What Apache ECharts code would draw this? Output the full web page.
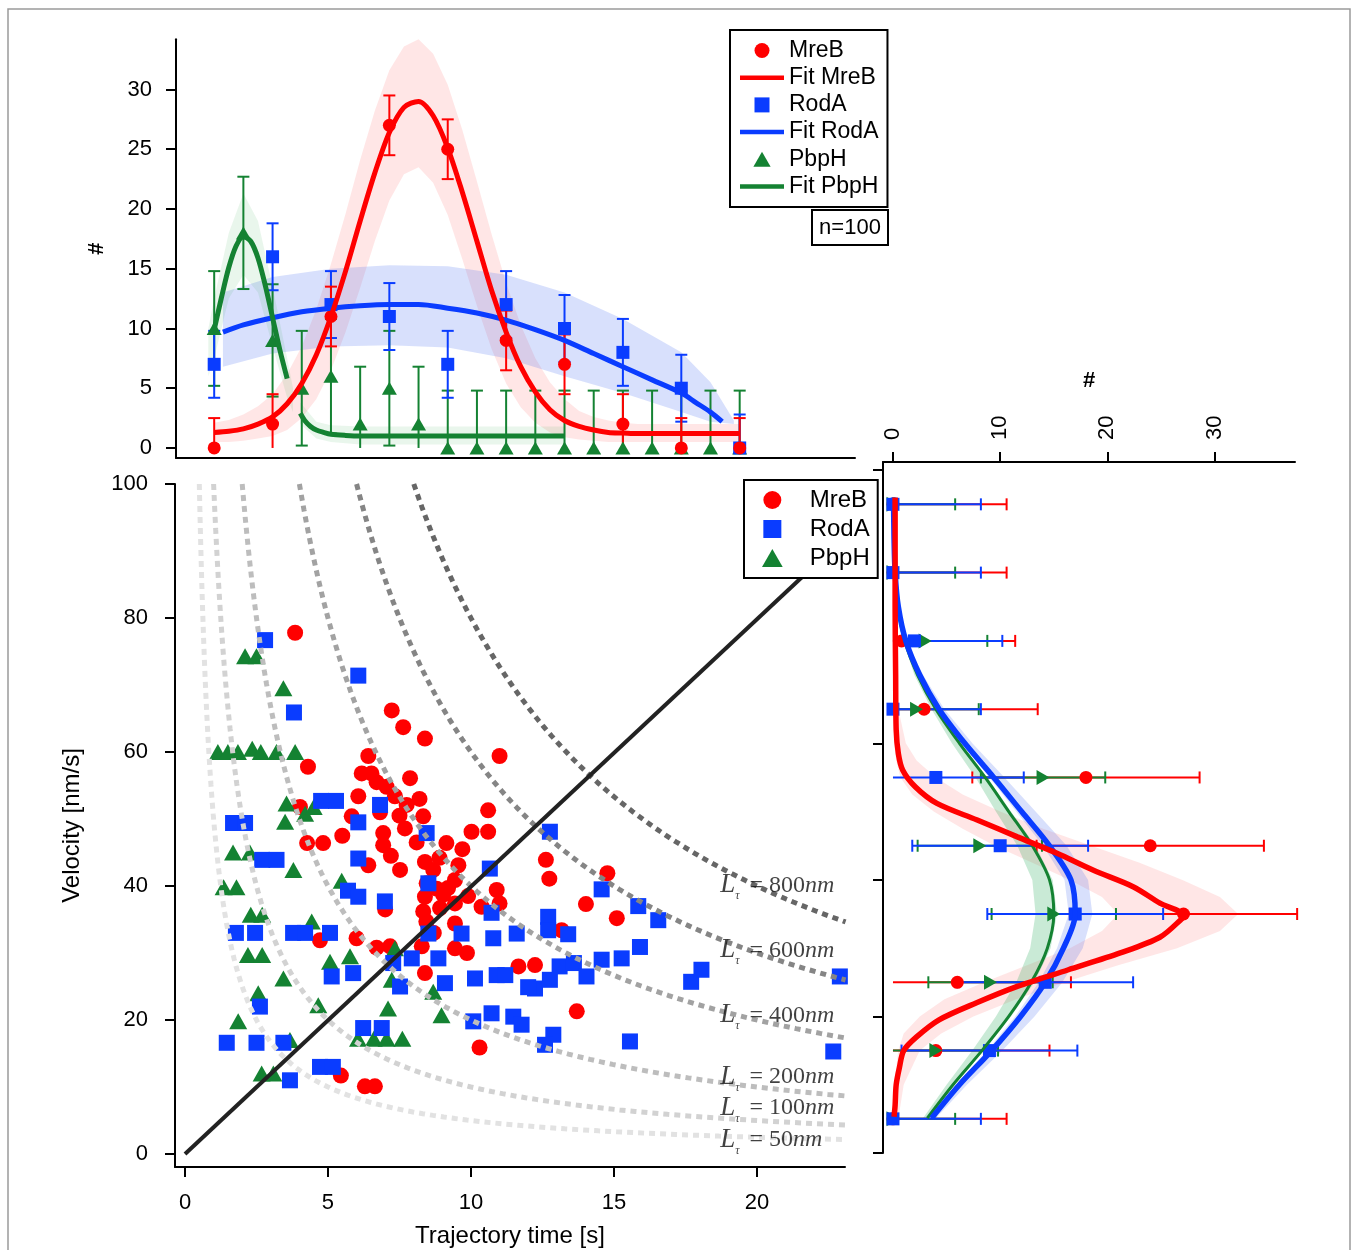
<!DOCTYPE html>
<html>
<head>
<meta charset="utf-8">
<script src="https://cdn.jsdelivr.net/npm/echarts@6/dist/echarts.min.js"></script>
<style>html,body{margin:0;padding:0;background:#fff;}</style>
</head>
<body>
<div id="main" style="width:1358px;height:1250px;"></div>
<script type="text/javascript">
// ---- top histogram (trajectory time) ----
var topBins2 = [1, 3, 5, 7, 9, 11, 13, 15, 17, 19];
var topMreB = [0, 2, 11, 27, 25, 9, 7, 2, 0, 0];
var topMreBErr = [2.5, 2.5, 2.5, 2.5, 2.5, 2.5, 2.5, 2.5, 2.5, 2.5];
var topRodA = [7, 16, 12, 11, 7, 12, 10, 8, 5, 0];
var topRodAErr = [2.8, 2.8, 2.8, 2.8, 2.8, 2.8, 2.8, 2.8, 2.8, 2.8];
var topBins1 = [1, 2, 3, 4, 5, 6, 7, 8, 9, 10, 11, 12, 13, 14, 15, 16, 17, 18, 19];
var topPbpH = [10, 18, 9, 5, 6, 2, 5, 2, 0, 0, 0, 0, 0, 0, 0, 0, 0, 0, 0];
var topPbpHErr = [4.8, 4.7, 4.7, 4.8, 4.8, 4.8, 4.8, 4.8, 4.8, 4.8, 4.8, 4.8, 4.8, 4.8, 4.8, 4.8, 4.8, 4.8, 4.8];

var fitMreBTopX = [1, 1.5, 2, 2.5, 3, 3.5, 4, 4.5, 5, 5.5, 6, 6.5, 7, 7.5, 8, 8.5, 9, 9.5, 10, 10.5, 11, 11.5, 12, 12.5, 13, 13.5, 14, 14.5, 15, 15.5, 16, 16.5, 17, 17.5, 18, 18.5, 19];
var fitMreBTopY = [1.3, 1.4, 1.6, 2.0, 2.6, 3.7, 5.4, 7.8, 11.0, 14.8, 19.0, 23.0, 26.4, 28.5, 29.0, 27.8, 25.1, 21.4, 17.3, 13.2, 9.7, 6.8, 4.7, 3.2, 2.3, 1.8, 1.5, 1.3, 1.25, 1.2, 1.2, 1.2, 1.2, 1.2, 1.2, 1.2, 1.2];
var fitMreBTopHi = [2.1, 2.35, 2.8, 3.5, 4.5, 6.2, 8.5, 11.6, 15.4, 19.6, 24.1, 28.2, 31.6, 33.6, 34.2, 33.0, 30.4, 26.6, 22.3, 17.9, 13.8, 10.3, 7.5, 5.5, 4.1, 3.1, 2.6, 2.3, 2.1, 2.0, 2.0, 2.0, 2.0, 2.0, 2.0, 2.0, 2.0];
var fitMreBTopLo = [0.5, 0.5, 0.6, 0.8, 1.0, 1.5, 2.5, 4.1, 6.5, 9.7, 13.4, 17.3, 20.7, 22.9, 23.5, 22.2, 19.5, 15.8, 11.9, 8.3, 5.4, 3.4, 2.1, 1.3, 0.9, 0.7, 0.6, 0.5, 0.5, 0.5, 0.5, 0.5, 0.5, 0.5, 0.5, 0.5, 0.5];

var fitRodATopX = [1.3, 2, 3, 4, 5, 6, 7, 8, 9, 10, 11, 12, 13, 14, 15, 16, 17, 17.5, 18, 18.4];
var fitRodATopY = [9.7, 10.3, 10.9, 11.4, 11.7, 11.9, 12.0, 12.0, 11.7, 11.3, 10.7, 9.9, 9.0, 7.9, 6.8, 5.7, 4.6, 3.8, 3.0, 2.2];
var bandRodATopX = [1.3, 3, 5, 7, 9, 11, 13, 15, 17, 18, 18.8];
var bandRodATopHi = [13.0, 14.3, 15.0, 15.3, 15.2, 14.5, 13.0, 10.8, 8.0, 5.5, 2.3];
var bandRodATopLo = [6.8, 7.9, 8.5, 8.6, 8.4, 7.5, 6.0, 4.6, 3.0, 2.2, 2.0];

var fitPbpHTopX1 = [1, 1.25, 1.5, 1.75, 2, 2.25, 2.5, 2.75, 3, 3.25, 3.5];
var fitPbpHTopY1 = [9.9, 12.6, 15.1, 16.9, 17.7, 17.3, 15.9, 13.6, 10.9, 8.2, 5.8];
var fitPbpHTopX2 = [3.95, 4.1, 4.3, 4.5, 4.75, 5, 5.5, 6, 8, 10, 13];
var fitPbpHTopY2 = [2.9, 2.3, 1.8, 1.5, 1.3, 1.15, 1.05, 1.0, 1.0, 1.0, 1.0];
var bandPbpHTopX1 = [0.8, 1, 1.5, 2, 2.5, 3, 3.5, 3.7];
var bandPbpHTopHi1 = [10, 12.5, 18.0, 21.3, 19.0, 13.5, 7.5, 5];
var bandPbpHTopLo1 = [6, 7.5, 12.5, 14.5, 13.0, 8.5, 4.2, 3];
var bandPbpHTopX2 = [3.95, 4.5, 5, 6, 13];
var bandPbpHTopHi2 = [3.8, 2.2, 1.9, 1.8, 1.8];
var bandPbpHTopLo2 = [2.0, 0.8, 0.5, 0.3, 0.3];

// ---- main scatter: trajectory time [s] vs velocity [nm/s] ----
var mreBTime = [3.85, 4.3, 7.23, 7.63, 8.39, 11.0, 6.41, 6.18, 6.52, 7.87, 7.05, 6.06, 7.34, 5.83, 6.82, 7.75, 8.33, 5.5, 6.93, 7.69, 6.93, 10.6, 10.02, 10.6, 9.14, 6.41, 7.52, 8.39, 8.68, 9.56, 9.44, 10.9, 7.0, 8.39, 9.03, 8.33, 8.92, 9.44, 10.37, 11.0, 8.44, 9.44, 6.0, 6.7, 7.17, 8.28, 9.44, 9.86, 8.39, 10.3, 5.45, 6.29, 6.64, 11.66, 12.24, 4.27, 4.83, 4.72, 4.02, 12.62, 12.74, 14.77, 14.02, 15.1, 13.17, 13.7, 8.45, 8.8, 9.2, 6.7, 7.5, 8.2, 7.2, 8.1, 9.7, 8.9, 9.9, 8.7];
var mreBVel = [77.8, 57.8, 66.2, 63.7, 62.0, 59.4, 59.4, 56.8, 56.8, 56.1, 54.8, 53.4, 53.4, 50.4, 51.0, 52.1, 50.4, 47.5, 47.9, 48.6, 46.1, 51.3, 48.1, 48.1, 46.4, 43.1, 42.4, 43.6, 42.4, 43.1, 40.9, 39.4, 36.5, 38.4, 38.7, 36.2, 36.7, 37.4, 36.9, 37.4, 34.7, 34.4, 32.2, 30.8, 31.0, 31.0, 30.7, 30.0, 27.0, 15.9, 11.7, 10.1, 10.1, 28.0, 28.2, 46.4, 46.4, 31.9, 51.8, 43.9, 41.1, 41.9, 37.3, 35.2, 33.4, 21.3, 40.4, 39.6, 39.7, 55.5, 50.5, 53.0, 44.5, 46.5, 45.5, 44.2, 38.5, 33.0];

var rodATime = [2.8, 6.06, 3.81, 4.76, 5.28, 1.68, 2.1, 2.7, 3.2, 1.78, 2.45, 3.78, 4.2, 5.07, 5.13, 5.88, 2.62, 1.46, 2.5, 3.44, 4.72, 5.17, 3.67, 5.7, 6.06, 6.82, 6.06, 8.45, 6.06, 6.99, 8.51, 10.66, 10.72, 8.51, 9.67, 10.78, 11.6, 7.93, 8.86, 7.28, 7.52, 9.09, 10.14, 10.9, 11.2, 10.72, 10.08, 11.48, 11.77, 6.23, 6.88, 12.76, 14.57, 15.85, 16.55, 12.7, 12.7, 13.4, 12.24, 12.76, 13.1, 13.6, 14.04, 14.57, 15.27, 15.91, 17.7, 18.06, 22.9, 22.67, 15.56, 12.88, 12.59, 12.0];
var rodAVel = [76.7, 71.4, 65.9, 52.7, 52.7, 49.4, 49.4, 43.9, 43.9, 33.0, 33.0, 33.0, 33.0, 33.0, 26.5, 27.0, 22.0, 16.6, 16.6, 16.6, 13.0, 13.0, 11.0, 39.3, 38.4, 52.1, 49.5, 47.9, 44.1, 37.7, 40.4, 42.6, 36.0, 32.9, 32.9, 32.2, 32.9, 29.2, 29.2, 28.5, 25.0, 25.5, 26.2, 26.7, 26.7, 21.0, 19.8, 20.5, 19.3, 18.8, 18.8, 48.1, 39.5, 37.0, 34.9, 35.4, 33.4, 32.8, 24.7, 26.0, 28.0, 28.5, 26.5, 29.0, 29.2, 30.9, 25.7, 27.5, 26.5, 15.3, 16.8, 17.8, 16.3, 24.9];

var pbpHTime = [2.1, 2.5, 3.44, 1.15, 1.5, 1.85, 2.35, 2.65, 3.2, 3.85, 3.55, 3.5, 4.2, 4.5, 1.68, 2.27, 3.79, 1.35, 1.8, 2.3, 2.7, 4.43, 2.2, 2.7, 3.44, 2.56, 1.86, 4.66, 5.07, 3.67, 2.68, 3.09, 5.48, 7.34, 5.77, 7.23, 8.68, 7.1, 8.97, 6.05, 6.6, 7.05, 7.6];
var pbpHVel = [74.3, 74.3, 69.5, 60.0, 60.0, 60.0, 60.5, 60.0, 60.0, 60.0, 52.3, 49.6, 50.8, 51.8, 45.0, 45.0, 42.4, 39.8, 39.8, 35.7, 35.7, 34.7, 29.7, 29.7, 26.2, 24.0, 19.8, 22.2, 28.7, 17.0, 12.0, 12.0, 40.8, 30.7, 29.5, 26.0, 24.2, 21.7, 20.7, 17.2, 17.2, 17.2, 17.2];

// constant run-length guides L = v * t
var runLengths = [50, 100, 200, 400, 600, 800];
var runColors = ['#e2e2e2', '#d2d2d2', '#bdbdbd', '#a2a2a2', '#858585', '#666666'];
var diagT = [0, 21.6];
var diagV = [0, 86.2];

// ---- right histogram (velocity) ----
var velBins = [5, 15, 25, 35, 45, 55, 65, 75, 85, 95];
var velMreB = [0, 4.0, 6.0, 27.1, 24.0, 18.0, 2.9, 0.8, 0, 0];
var velMreBErr = [10.6, 10.6, 10.6, 10.6, 10.6, 10.6, 10.6, 10.6, 10.6, 10.6];
var velRodA = [0, 9.0, 14.2, 17.0, 10.0, 4.0, 0, 2.0, 0, 0];
var velRodAErr = [8.2, 8.2, 8.2, 8.2, 8.2, 8.2, 8.2, 8.2, 8.2, 8.2];
var velPbpH = [0, 4.0, 9.1, 15.0, 8.1, 14.0, 2.2, 3.0, 0, 0];
var velPbpHErr = [5.8, 5.8, 5.8, 5.8, 5.8, 5.8, 5.8, 5.8, 5.8, 5.8];

var fitMreBVel = [5.3, 7, 10, 12.5, 15, 17, 19.5, 22, 24.4, 26.8, 29.3, 31.6, 34.1, 34.8, 36.6, 39, 41.4, 43.9, 46.3, 48.8, 51.2, 53.6, 56.1, 58.5, 62, 70, 80, 96];
var fitMreBCount = [0.1, 0.2, 0.3, 0.6, 1.0, 2.2, 4.3, 7.8, 11.6, 16.3, 21.2, 24.9, 26.8, 27.1, 24.9, 22.4, 18.7, 15.3, 11.6, 7.8, 4.1, 2.1, 0.9, 0.5, 0.3, 0.25, 0.2, 0.2];
var bandMreBVel = [5, 10, 15, 17.5, 20, 22.5, 25, 27.5, 30, 32.5, 35, 37.5, 40, 42.5, 45, 47.5, 50, 52.5, 55, 57.5, 60, 65];
var bandMreBHi = [0.5, 1.0, 2.5, 4.5, 7.5, 11.5, 16.0, 21.0, 26.5, 30.5, 32.2, 30.5, 27.0, 23.0, 18.5, 14.0, 10.0, 6.5, 4.0, 2.2, 1.2, 0.5];
var bandMreBLo = [0, 0.1, 0.5, 1.0, 2.5, 4.8, 8.5, 12.5, 16.5, 19.5, 21.0, 19.5, 16.5, 13.0, 9.5, 6.5, 3.8, 1.8, 0.7, 0.3, 0.1, 0];

var fitVel = [5.1, 10, 15, 20, 25, 30, 35, 40, 45, 50, 55, 60, 65, 70, 75, 80, 85, 90, 96];
var fitRodACount = [3.6, 6.2, 9.2, 11.9, 14.2, 15.9, 17.0, 16.6, 14.6, 12.0, 9.4, 6.7, 4.3, 2.5, 1.2, 0.5, 0.2, 0.1, 0.05];
var bandRodAHi = [4.0, 6.9, 10.2, 13.2, 15.8, 17.7, 18.6, 18.2, 16.2, 13.3, 10.4, 7.4, 4.8, 2.8, 1.3, 0.55, 0.22, 0.1, 0.05];
var bandRodALo = [3.4, 5.9, 8.8, 11.4, 13.6, 15.3, 16.4, 16.0, 14.0, 11.5, 9.0, 6.4, 4.1, 2.4, 1.1, 0.45, 0.18, 0.1, 0.05];
var fitPbpHCount = [3.2, 5.6, 8.3, 10.8, 12.9, 14.4, 15.0, 14.6, 13.0, 10.8, 8.6, 6.2, 4.0, 2.3, 1.1, 0.45, 0.2, 0.1, 0.05];
var bandPbpHHi = [3.3, 5.7, 8.5, 11.0, 13.2, 14.7, 15.3, 14.9, 13.3, 11.0, 8.8, 6.3, 4.1, 2.35, 1.1, 0.45, 0.2, 0.1, 0.05];
var bandPbpHLo = [2.8, 5.0, 7.4, 9.6, 11.5, 12.8, 13.3, 13.0, 11.6, 9.6, 7.7, 5.5, 3.6, 2.0, 0.95, 0.4, 0.18, 0.1, 0.05];

// tick values
var topCountTicks = [0, 5, 10, 15, 20, 25, 30];
var timeTicks = [0, 5, 10, 15, 20];
var velTicks = [0, 20, 40, 60, 80, 100];
var rightCountTicks = [0, 10, 20, 30];
var rightVelTicks = [0, 20, 40, 60, 100];

// label anchors for the L guides (time, velocity)
var runLabelT = [18.7, 18.7, 18.7, 18.7, 18.7, 18.7];
var runLabelV = [2.1, 6.9, 11.5, 20.7, 30.4, 40.1];

var FONT = 'Liberation Sans';
var RED = '#ff0000', BLUE = '#0a3cff', GREEN = '#148232';
var ICON_LINE = 'path://M0,0L44,0L44,4.5L0,4.5Z';
var ICON_SQUARE = 'path://M0,0L10,0L10,10L0,10Z';
var ICON_TRI = 'path://M5,0L10,8.7L0,8.7Z';

function pairs(xs, ys) {
    return xs.map(function (x, i) { return [x, ys[i]]; });
}

// shaded confidence band drawn as a polygon through the axis scales
function band(name, gi, xs, hi, lo, color, flip) {
    return {
        name: name, type: 'custom', xAxisIndex: gi, yAxisIndex: gi, silent: true,
        data: [flip ? [hi[0], xs[0]] : [xs[0], hi[0]]],
        renderItem: function (params, api) {
            var pts = [], i;
            for (i = 0; i < xs.length; i++) pts.push(api.coord(flip ? [hi[i], xs[i]] : [xs[i], hi[i]]));
            for (i = xs.length - 1; i >= 0; i--) pts.push(api.coord(flip ? [lo[i], xs[i]] : [xs[i], lo[i]]));
            return { type: 'polygon', shape: { points: pts }, style: { fill: color } };
        }
    };
}

function errBars(name, gi, pos, vals, errs, color, horiz) {
    var rows = pos.map(function (p, i) {
        var lo = vals[i] - errs[i];
        return [p, vals[i], Math.max(lo, 0), vals[i] + errs[i], lo > 0 ? 1 : 0];
    });
    return {
        name: name, type: 'custom', xAxisIndex: gi, yAxisIndex: gi, silent: true,
        encode: horiz ? { y: 0, x: [1, 2, 3] } : { x: 0, y: [1, 2, 3] },
        data: rows,
        renderItem: function (params, api) {
            var p = api.value(0), a = api.value(2), b = api.value(3), capLo = api.value(4);
            var A = horiz ? api.coord([a, p]) : api.coord([p, a]);
            var B = horiz ? api.coord([b, p]) : api.coord([p, b]);
            var h = 6, st = { stroke: color, lineWidth: 2 };
            var kids = [{ type: 'line', shape: { x1: A[0], y1: A[1], x2: B[0], y2: B[1] }, style: st }];
            function cap(P) {
                kids.push({
                    type: 'line', style: st,
                    shape: horiz ? { x1: P[0], y1: P[1] - h, x2: P[0], y2: P[1] + h }
                                 : { x1: P[0] - h, y1: P[1], x2: P[0] + h, y2: P[1] }
                });
            }
            cap(B);
            if (capLo) cap(A);
            return { type: 'group', children: kids };
        }
    };
}

function fitLine(name, gi, data, color, width) {
    return {
        name: name, type: 'line', xAxisIndex: gi, yAxisIndex: gi, data: data,
        symbol: 'none', smooth: 0.3, silent: true,
        lineStyle: { color: color, width: width }, itemStyle: { color: color }
    };
}

function dots(name, gi, data, symbol, size, color, rot) {
    return {
        name: name, type: 'scatter', xAxisIndex: gi, yAxisIndex: gi, data: data,
        symbol: symbol, symbolSize: size, symbolRotate: rot || 0, silent: true,
        itemStyle: { color: color, opacity: 1 }
    };
}

var myChart = echarts.init(document.getElementById('main'));

var series = [];
// top panel
series.push(band('bandMreBTop', 0, fitMreBTopX, fitMreBTopHi, fitMreBTopLo, 'rgba(255,80,80,0.14)'));
series.push(band('bandRodATop', 0, bandRodATopX, bandRodATopHi, bandRodATopLo, 'rgba(60,100,240,0.2)'));
series.push(band('bandPbpHTop1', 0, bandPbpHTopX1, bandPbpHTopHi1, bandPbpHTopLo1, 'rgba(40,170,70,0.10)'));
series.push(band('bandPbpHTop2', 0, bandPbpHTopX2, bandPbpHTopHi2, bandPbpHTopLo2, 'rgba(40,170,70,0.10)'));
series.push(errBars('errPbpHTop', 0, topBins1, topPbpH, topPbpHErr, GREEN, false));
series.push(errBars('errRodATop', 0, topBins2, topRodA, topRodAErr, BLUE, false));
series.push(errBars('errMreBTop', 0, topBins2, topMreB, topMreBErr, RED, false));
series.push(fitLine('Fit RodA', 0, pairs(fitRodATopX, fitRodATopY), BLUE, 5));
series.push(fitLine('Fit PbpH', 0, pairs(fitPbpHTopX1, fitPbpHTopY1), GREEN, 5));
series.push(fitLine('Fit PbpH', 0, pairs(fitPbpHTopX2, fitPbpHTopY2), GREEN, 5));
series.push(fitLine('Fit MreB', 0, pairs(fitMreBTopX, fitMreBTopY), RED, 5));
series.push(dots('PbpH', 0, pairs(topBins1, topPbpH), 'triangle', [15, 13], GREEN));
series.push(dots('RodA', 0, pairs(topBins2, topRodA), 'rect', 13, BLUE));
series.push(dots('MreB', 0, pairs(topBins2, topMreB), 'circle', 13, RED));

// main panel
series.push(dots('MreB', 1, pairs(mreBTime, mreBVel), 'circle', 16, RED));
series.push(dots('PbpH', 1, pairs(pbpHTime, pbpHVel), 'triangle', [18, 16], GREEN));
series.push(dots('RodA', 1, pairs(rodATime, rodAVel), 'rect', 16, BLUE));
runLengths.forEach(function (L, k) {
    var t0 = L / 100, pts = [];
    for (var j = 0; j <= 90; j++) {
        var t = t0 * Math.pow(23.1 / t0, j / 90);
        pts.push([t, L / t]);
    }
    series.push({
        name: 'L' + L, type: 'line', xAxisIndex: 1, yAxisIndex: 1, data: pts,
        symbol: 'none', silent: true, z: 3,
        lineStyle: { color: runColors[k], width: 5, type: [6, 5], cap: 'butt' }
    });
});
series.push({
    name: 'diag', type: 'line', xAxisIndex: 1, yAxisIndex: 1, data: pairs(diagT, diagV),
    symbol: 'none', silent: true, z: 3, lineStyle: { color: '#222', width: 4 }
});
series.push({
    name: 'Llabels', type: 'scatter', xAxisIndex: 1, yAxisIndex: 1, silent: true, z: 5,
    symbolSize: 1, itemStyle: { color: 'rgba(0,0,0,0)' },
    data: runLabelT.map(function (t, i) { return [t, runLabelV[i], runLengths[i]]; }),
    label: {
        show: true, position: 'right', distance: 0,
        formatter: function (p) { return '{L|L}{s|τ}{t| = ' + p.value[2] + '}{u|nm}'; },
        rich: {
            L: { fontFamily: 'Liberation Serif', fontStyle: 'italic', fontSize: 27, color: '#111' },
            s: { fontFamily: 'Liberation Serif', fontStyle: 'italic', fontSize: 12, color: '#111', padding: [22, 4, 0, 0] },
            t: { fontFamily: 'Liberation Serif', fontSize: 24, color: '#111' },
            u: { fontFamily: 'Liberation Serif', fontStyle: 'italic', fontSize: 24, color: '#111' }
        }
    }
});

// right panel (count on x, velocity on y)
series.push(band('bandMreBVel', 2, bandMreBVel, bandMreBHi, bandMreBLo, 'rgba(255,80,80,0.14)', true));
series.push(band('bandRodAVel', 2, fitVel, bandRodAHi, bandRodALo, 'rgba(60,100,240,0.2)', true));
series.push(band('bandPbpHVel', 2, fitVel, bandPbpHHi, bandPbpHLo, 'rgba(40,170,90,0.25)', true));
series.push(errBars('errMreBVel', 2, velBins, velMreB, velMreBErr, RED, true));
series.push(errBars('errPbpHVel', 2, velBins, velPbpH, velPbpHErr, GREEN, true));
series.push(errBars('errRodAVel', 2, velBins, velRodA, velRodAErr, BLUE, true));
series.push(dots('MreB', 2, pairs(velMreB, velBins), 'circle', 13, RED));
series.push(dots('PbpH', 2, pairs(velPbpH, velBins), 'triangle', [15, 13], GREEN, -90));
series.push(dots('RodA', 2, pairs(velRodA, velBins), 'rect', 13, BLUE));
series.push(fitLine('fitPbpHVel', 2, pairs(fitPbpHCount, fitVel), GREEN, 3));
series.push(fitLine('fitRodAVel', 2, pairs(fitRodACount, fitVel), BLUE, 5.5));
series.push(fitLine('fitMreBVel', 2, pairs(fitMreBCount, fitMreBVel), RED, 5.5));

var axisLine = { show: true, onZero: false, lineStyle: { color: '#000', width: 2 } };
var noSplit = { show: false };
function ticks(vals) {
    return { show: true, length: 10, lineStyle: { color: '#000', width: 2 }, customValues: vals };
}
function labels(vals, margin, extra) {
    var o = { fontSize: 22, fontFamily: FONT, color: '#000', margin: margin, customValues: vals };
    for (var k in (extra || {})) o[k] = extra[k];
    return o;
}

var option = {
    animation: false,
    backgroundColor: '#fff',
    grid: [
        { left: 176, top: 39.3, width: 679, height: 418.7, outerBoundsMode: 'none' },
        { left: 175, top: 484, width: 670, height: 683, outerBoundsMode: 'none' },
        { left: 883, top: 462, width: 412, height: 691, outerBoundsMode: 'none' }
    ],
    xAxis: [
        { gridIndex: 0, type: 'value', min: -0.308, max: 22.95,
          axisLine: axisLine, axisTick: { show: false }, axisLabel: { show: false }, splitLine: noSplit },
        { gridIndex: 1, type: 'value', min: -0.35, max: 23.08,
          axisLine: axisLine, axisTick: ticks(timeTicks), splitLine: noSplit,
          axisLabel: labels(timeTicks, 25),
          name: 'Trajectory time [s]', nameLocation: 'middle', nameGap: 57,
          nameTextStyle: { fontSize: 24, fontFamily: FONT, color: '#000' } },
        { gridIndex: 2, type: 'value', position: 'top', min: -0.93, max: 37.5,
          axisLine: axisLine, axisTick: ticks(rightCountTicks), splitLine: noSplit,
          axisLabel: labels(rightCountTicks, 22, { rotate: -90 }),
          name: '#', nameLocation: 'middle', nameGap: 70,
          nameTextStyle: { fontSize: 22, fontFamily: FONT, color: '#000', fontWeight: 'bold' } }
    ],
    yAxis: [
        { gridIndex: 0, type: 'value', min: -0.84, max: 34.2,
          axisLine: axisLine, axisTick: ticks(topCountTicks), splitLine: noSplit,
          axisLabel: labels(topCountTicks, 24),
          name: '#', nameLocation: 'middle', nameGap: 68,
          nameTextStyle: { fontSize: 22, fontFamily: FONT, color: '#000', fontWeight: 'bold' } },
        { gridIndex: 1, type: 'value', min: -1.94, max: 100,
          axisLine: axisLine, axisTick: ticks(velTicks), splitLine: noSplit,
          axisLabel: labels(velTicks, 27),
          name: 'Velocity [nm/s]', nameLocation: 'middle', nameGap: 91,
          nameTextStyle: { fontSize: 24, fontFamily: FONT, color: '#000' } },
        { gridIndex: 2, type: 'value', min: 0, max: 101.2,
          axisLine: axisLine, splitLine: noSplit, axisLabel: { show: false },
          axisTick: ticks(rightVelTicks) }
    ],
    legend: [
        { data: [
              { name: 'MreB', icon: 'circle' },
              { name: 'Fit MreB', icon: ICON_LINE },
              { name: 'RodA', icon: ICON_SQUARE },
              { name: 'Fit RodA', icon: ICON_LINE },
              { name: 'PbpH', icon: ICON_TRI },
              { name: 'Fit PbpH', icon: ICON_LINE }
          ],
          orient: 'vertical', left: 730, top: 30, selectedMode: false, symbolKeepAspect: true,
          backgroundColor: '#fff', borderColor: '#000', borderWidth: 2,
          padding: [9, 9, 9, 10], itemGap: 4.2, itemWidth: 44, itemHeight: 15,
          textStyle: { fontSize: 23, fontFamily: FONT, color: '#000', lineHeight: 23 } },
        { data: [
              { name: 'MreB', icon: 'circle' },
              { name: 'RodA', icon: ICON_SQUARE },
              { name: 'PbpH', icon: ICON_TRI }
          ],
          orient: 'vertical', left: 744, top: 480, selectedMode: false, symbolKeepAspect: true,
          backgroundColor: '#fff', borderColor: '#000', borderWidth: 2,
          padding: [8, 8, 8, 18], itemGap: 5, itemWidth: 38, itemHeight: 18,
          formatter: function (name) { return '  ' + name; },
          textStyle: { fontSize: 24, fontFamily: FONT, color: '#000', lineHeight: 24 } }
    ],
    graphic: [
        { type: 'rect', silent: true, z: 0, shape: { x: 8, y: 9, width: 1342, height: 1262 },
          style: { fill: 'none', stroke: '#9a9a9a', lineWidth: 1.5 } },
        { type: 'rect', silent: true, z: 10, shape: { x: 812, y: 210, width: 76, height: 35 },
          style: { fill: '#fff', stroke: '#000', lineWidth: 2 } },
        { type: 'text', silent: true, z: 11, x: 850, y: 228,
          style: { text: 'n=100', fill: '#000', fontSize: 22, fontFamily: FONT, align: 'center', verticalAlign: 'middle' } }
    ],
    series: series
};

myChart.setOption(option);
</script>
</body>
</html>
